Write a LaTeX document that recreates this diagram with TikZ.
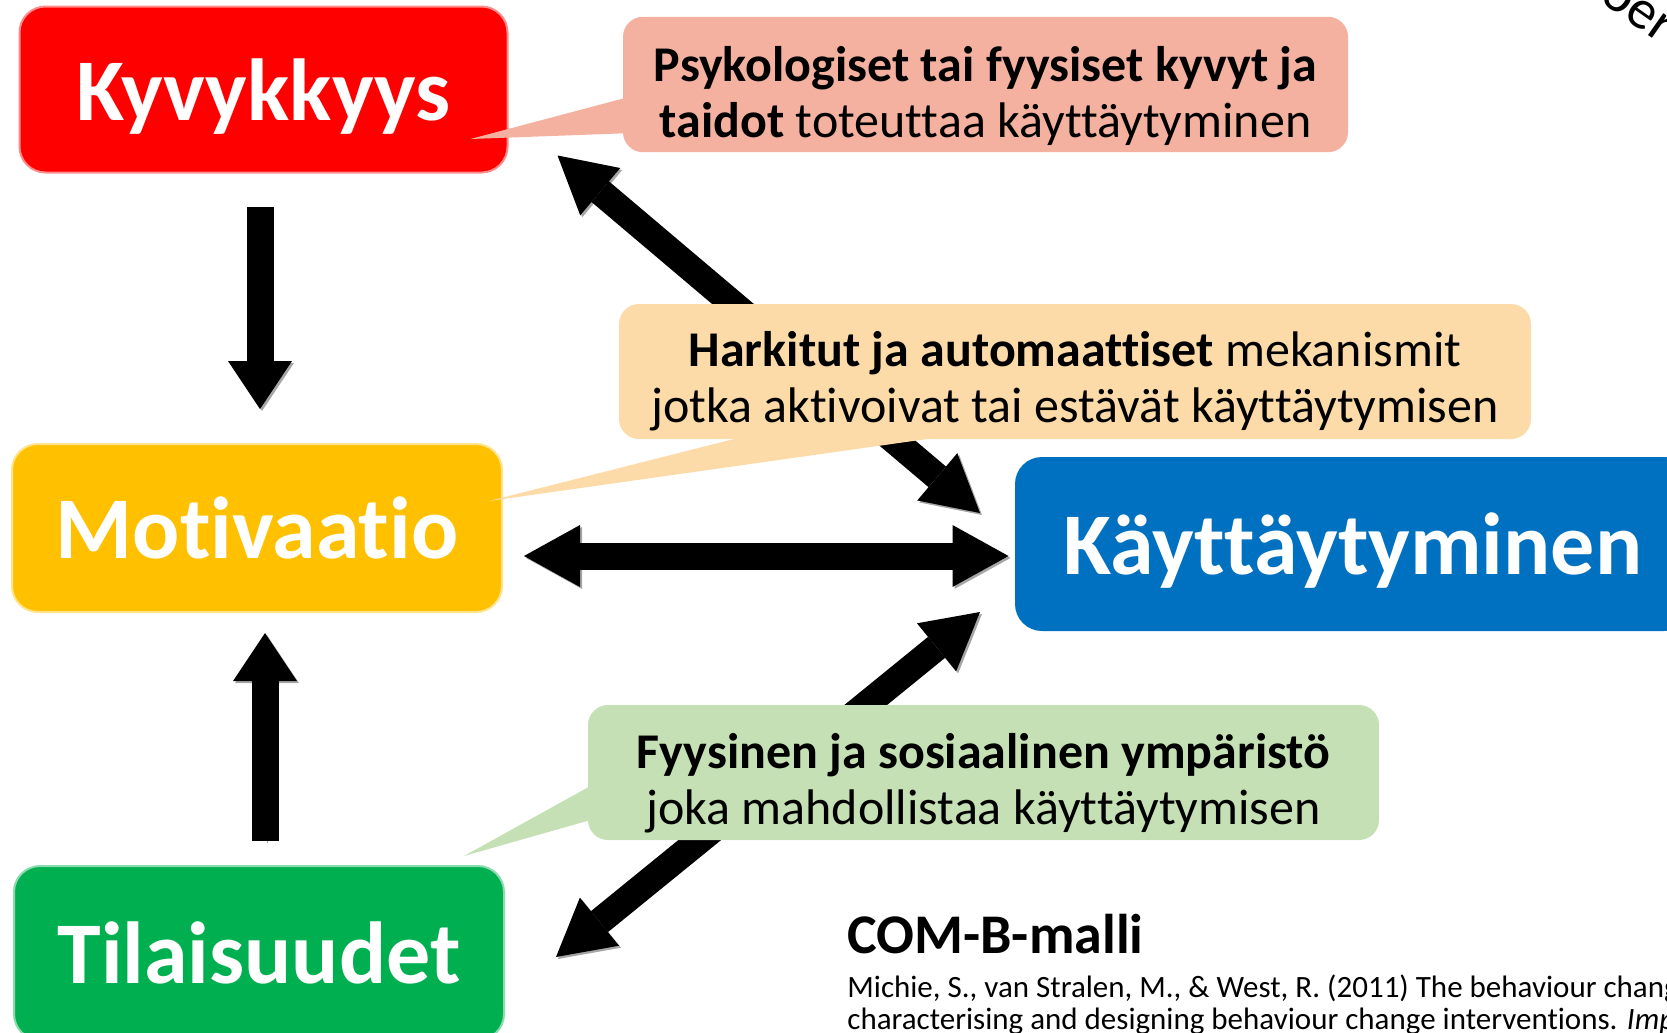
\documentclass[tikz,border=0pt]{standalone}
\usepackage{fontspec}
\setmainfont{Carlito}[Ligatures={NoCommon}]
\usetikzlibrary{arrows.meta}
\definecolor{kyvred}{HTML}{FF0000}
\definecolor{motorange}{HTML}{FFC000}
\definecolor{tilgreen}{HTML}{00B050}
\definecolor{kayblue}{HTML}{0070C0}
\definecolor{psypink}{HTML}{F4B1A0}
\definecolor{harorange}{HTML}{FCDBA8}
\definecolor{fyygreen}{HTML}{C5E0B4}
\tikzstyle{block} = [rectangle, rounded corners=13pt, text=white, line width=1pt, text depth=0pt, font=\fontsize{44}{50}\selectfont\bfseries]
\tikzstyle{callout} = [rectangle, rounded corners=10pt, align=center, font=\fontsize{25}{28}\selectfont]
\tikzstyle{fatarrow} = [line width=13.5pt, black, -{Triangle[width=32pt, length=24pt, line width=0pt]}, preaction={draw=black!35, transform canvas={shift={(1pt,-1pt)}}}]
\tikzstyle{fatboth} = [line width=13.5pt, black, {Triangle[width=31pt, length=28pt, line width=0pt]}-{Triangle[width=31pt, length=28pt, line width=0pt]}, preaction={draw=black!35, transform canvas={shift={(1pt,-1pt)}}}]

\begin{document}
\begin{tikzpicture}[x=0.5pt, y=-0.5pt]
    \useasboundingbox (0,0) rectangle (1667,1033);
    \clip (0,0) rectangle (1667,1033);
    \node (kyv) [block, fill=kyvred, draw=kyvred!45, minimum width=244pt, minimum height=83pt] at (263.5,89.5) {Kyvykkyys};
    \node (mot) [block, fill=motorange, draw=motorange!45, minimum width=245pt, minimum height=84pt] at (257,528) {Motivaatio};
    \node (til) [block, fill=tilgreen, draw=tilgreen!45, minimum width=245pt, minimum height=87pt] at (259,953) {Tilaisuudet};
    \node (kay) [block, fill=kayblue, draw=kayblue, minimum width=337pt, minimum height=86pt] at (1353,544) {Käyttäytyminen};

    \draw[fatarrow] ([xshift=-1.75pt, yshift=-16.5pt]kyv.south) -- ([xshift=1.5pt, yshift=17pt]mot.north);
    \draw[fatarrow] ([xshift=3pt, yshift=12pt]til.north) -- ([xshift=4pt, yshift=-10pt]mot.south);
    \draw[fatboth] ([xshift=10.5pt, yshift=-14pt]mot.east) -- ([xshift=-3.25pt, yshift=-6pt]kay.west);
    \draw[fatboth] ([xshift=24.5pt, yshift=9pt]kyv.south east) -- ([xshift=-17.5pt, yshift=-28pt]kay.north west);
    \draw[fatboth] ([xshift=25.5pt, yshift=-2pt]til.east) -- ([xshift=-17.5pt, yshift=9.5pt]kay.south west);

    \node (psy) [callout, fill=psypink, minimum width=362.5pt, minimum height=67.5pt] at (985.5,84.5) {\rule{0pt}{29pt}\textbf{Psykologiset tai fyysiset kyvyt ja}\\\textbf{taidot} toteuttaa käyttäytyminen};
    \node (har) [callout, fill=harorange, minimum width=456pt, minimum height=67.5pt] at (1075,371.5) {\rule{0pt}{27pt}\textbf{Harkitut ja automaattiset} mekanismit\\jotka aktivoivat tai estävät käyttäytymisen};
    \node (fyy) [callout, fill=fyygreen, minimum width=395.5pt, minimum height=67.5pt] at (983.5,772.5) {\rule{0pt}{28pt}\textbf{Fyysinen ja sosiaalinen ympäristö}\\joka mahdollistaa käyttäytymisen};
    \fill[psypink] ([xshift=5pt, yshift=-5.75pt]psy.west) -- ([xshift=-19pt, yshift=-24.75pt]kyv.east) -- ([xshift=5pt, yshift=-24.25pt]psy.west) -- cycle;
    \fill[harorange] ([xshift=-151.5pt, yshift=5pt]har.south) -- ([xshift=-7pt, yshift=13.5pt]mot.east) -- ([xshift=-40pt, yshift=5pt]har.south) -- cycle;
    \fill[fyygreen] ([xshift=5pt, yshift=-4.75pt]fyy.west) -- ([xshift=-20.5pt, yshift=4.5pt]til.north east) -- ([xshift=5pt, yshift=-22.75pt]fyy.west) -- cycle;

    \node (comb) [anchor=base west, inner sep=0pt, font=\fontsize{28}{33}\selectfont\bfseries] at (847,953) {COM-B-malli};
    \node (ref1) [anchor=base west, inner sep=0pt, font=\fontsize{15.5}{18}\selectfont] at (847,997) {Michie, S., van Stralen, M., \& West, R. (2011) The behaviour change wheel};
    \node (ref2) [anchor=base west, inner sep=0pt, font=\fontsize{15.5}{18}\selectfont] at (847,1029) {characterising and designing behaviour change interventions. \textit{Implementation}};
    \node (beh) [rotate=-35, font=\fontsize{28}{32}\selectfont] at (1638,12) {oer};
\end{tikzpicture}
\end{document}
